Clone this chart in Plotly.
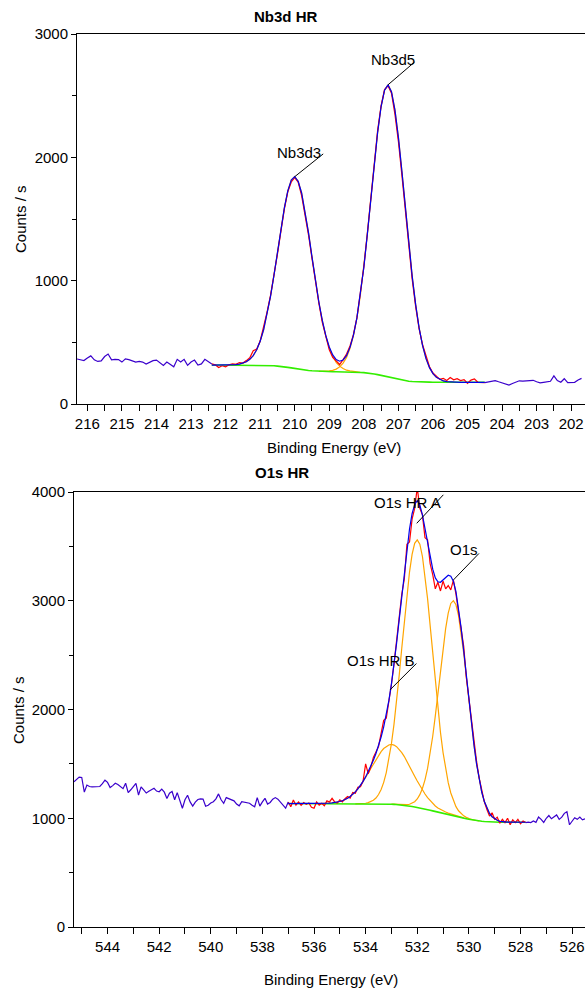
import plotly.graph_objects as go

W, H = 585, 991
STEP = 0.1

# ---------------- Nb3d HR (0.1 eV steps, 216.3 -> 201.7 eV) ----------------
nb_start, nb_end = 216.3, 201.7
nb_counts = [
    # 216.3 -> 212.4 (outside fit region)
    365, 360, 352, 372, 390, 358, 345, 350, 385, 405, 358, 362, 360, 340, 366, 360, 352, 340, 345, 340,
    324, 338, 352, 356, 330, 312, 340, 320, 302, 362, 340, 362, 313, 340, 356, 316, 325, 362, 345, 325,
    # 212.3 -> 204.5 (fit region)
    318, 296, 310, 302, 318, 326, 322, 336, 332, 352, 375, 432, 445, 510, 620, 745, 880, 1040, 1215, 1400,
    1580, 1720, 1800, 1835, 1800, 1690, 1540, 1370, 1180, 990, 815, 660, 540, 440, 378, 350, 320, 360, 405, 470,
    565, 700, 885, 1110, 1380, 1670, 1960, 2220, 2420, 2550, 2580, 2520, 2350, 2130, 1860, 1570, 1280, 1010, 790, 610,
    480, 380, 302, 252, 222, 200, 208, 190, 214, 196, 205, 190, 198, 168, 194, 204, 176, 172, 174,
    # 204.4 -> 201.7
    180, 184, 190, 180, 172, 160, 154, 166, 178, 188, 186, 190, 194, 192, 180, 172, 176, 180, 184, 228,
    190, 176, 205, 174, 172, 176, 195, 208,
]
nb_region = (212.4, 204.5)
nb_bg = [
    316, 316, 316, 316, 316, 316, 316, 316, 316, 316, 316, 316, 316, 315, 315, 314, 313, 312, 310, 307,
    305, 301, 297, 293, 288, 284, 280, 276, 272, 269, 267, 265, 264, 263, 262, 262, 261, 261, 261, 260,
    260, 259, 258, 256, 254, 252, 248, 243, 238, 232, 225, 218, 212, 205, 199, 194, 189, 185, 182, 180,
    179, 178, 177, 177, 176, 176, 176, 176, 176, 176, 176, 176, 176, 176, 176, 176, 176, 176, 176, 176,
]
nb_env = [
    316, 316, 316, 316, 316, 317, 318, 320, 324, 330, 342, 362, 393, 440, 509, 602, 724, 872, 1044, 1231,
    1420, 1590, 1728, 1815, 1843, 1806, 1711, 1565, 1387, 1193, 1001, 825, 676, 554, 462, 398, 360, 347, 357, 392,
    459, 559, 698, 883, 1107, 1371, 1656, 1942, 2203, 2412, 2545, 2588, 2532, 2385, 2164, 1893, 1597, 1304, 1035, 806,
    617, 474, 368, 295, 246, 216, 198, 187, 182, 179, 177, 176, 176, 176, 176, 176, 176, 176, 176, 176,
]
nb3d3_start = 211.9
nb3d3_fit = [
    317, 318, 320, 324, 330, 342, 362, 393, 440, 509, 602, 724, 872, 1044, 1231, 1420, 1590, 1728, 1815, 1843,
    1806, 1711, 1565, 1387, 1193, 1001, 825, 675, 551, 456, 387, 338, 307, 287, 274, 268, 263, 260, 257,
]
nb3d5_start = 209.3
nb3d5_fit = [
    265, 265, 266, 268, 273, 283, 301, 331, 378, 451, 555, 696, 882, 1107, 1371, 1656, 1942, 2203, 2412, 2545,
    2588, 2532, 2385, 2164, 1893, 1597, 1304, 1035, 806, 617, 474, 368, 295, 246, 216, 198, 187, 182, 179, 177,
]
nb_labels = ["Nb3d3", "Nb3d5"]
nb_label_x = [210.0, 207.3]
nb_label_y = [1843, 2588]

# ---------------- O1s HR (0.1 eV steps, 545.3 -> 525.5 eV) ----------------
o_start, o_end = 545.3, 525.5
o_counts = [
    # 545.3 -> 537.0
    1336, 1360, 1378, 1375, 1240, 1305, 1292, 1288, 1290, 1289, 1292, 1318, 1350, 1330, 1282, 1300, 1322, 1310, 1295, 1272,
    1322, 1236, 1262, 1290, 1320, 1212, 1288, 1260, 1232, 1248, 1262, 1276, 1250, 1244, 1268, 1240, 1182, 1230, 1246, 1170,
    1236, 1160, 1092, 1170, 1212, 1150, 1112, 1148, 1172, 1178, 1176, 1110, 1120, 1140, 1152, 1178, 1224, 1170, 1138, 1190,
    1180, 1165, 1160, 1130, 1114, 1152, 1145, 1142, 1138, 1120, 1106, 1190, 1112, 1150, 1183, 1130, 1145, 1175, 1190, 1175,
    1150, 1120, 1092, 1150,
    # 536.9 -> 527.8 (fit region)
    1105, 1168, 1120, 1150, 1118, 1145, 1128, 1140, 1100, 1092, 1150, 1120, 1138, 1115, 1160, 1150, 1183, 1150, 1140, 1170,
    1150, 1180, 1200, 1185, 1238, 1230, 1285, 1290, 1340, 1500, 1410, 1470, 1560, 1610, 1660, 1780, 1900, 1920, 2060, 2230,
    2420, 2630, 2800, 3060, 3200, 3520, 3540, 3750, 3850, 4040, 3850, 3790, 3580, 3560, 3340, 3240, 3110, 3170, 3090, 3180,
    3110, 3140, 3100, 3190, 3060, 2900, 2700, 2580, 2300, 2100, 1880, 1700, 1520, 1370, 1260, 1150, 1080, 1020, 1050, 990,
    1010, 955, 990, 960, 1000, 940, 985, 960, 990, 950, 975, 960,
    # 527.7 -> 525.5
    965, 960, 975, 962, 1012, 990, 962, 1000, 1025, 995, 1010, 1030, 990, 1010, 1045, 1060, 940, 975, 1005, 990,
    1010, 985, 995,
]
o_region = (537.0, 527.8)
o_bg = [
    1135, 1135, 1135, 1135, 1135, 1135, 1135, 1135, 1134, 1134, 1134, 1134, 1134, 1134, 1134, 1134, 1134, 1134, 1134, 1133,
    1133, 1133, 1133, 1133, 1133, 1133, 1133, 1133, 1132, 1132, 1132, 1132, 1132, 1131, 1131, 1131, 1131, 1130, 1130, 1129,
    1129, 1128, 1126, 1124, 1122, 1119, 1116, 1112, 1108, 1104, 1100, 1096, 1091, 1086, 1080, 1074, 1068, 1062, 1057, 1052,
    1047, 1042, 1037, 1032, 1026, 1020, 1014, 1008, 1002, 996, 991, 986, 982, 978, 975, 972, 970, 968, 967, 966,
    965, 964, 963, 963, 963, 963, 963, 963, 963, 963, 963, 963, 963,
]
o_env = [
    1135, 1135, 1135, 1135, 1135, 1135, 1135, 1135, 1134, 1134, 1134, 1134, 1135, 1135, 1136, 1137, 1139, 1141, 1144, 1148,
    1154, 1161, 1171, 1184, 1200, 1220, 1243, 1271, 1302, 1339, 1380, 1427, 1477, 1533, 1595, 1666, 1747, 1841, 1952, 2081,
    2236, 2411, 2610, 2824, 3048, 3269, 3473, 3660, 3800, 3885, 3920, 3880, 3790, 3665, 3530, 3400, 3290, 3210, 3175, 3170,
    3190, 3215, 3235, 3225, 3180, 3085, 2935, 2750, 2540, 2315, 2086, 1868, 1670, 1497, 1353, 1239, 1153, 1089, 1044, 1014,
    994, 981, 972, 968, 966, 964, 964, 963, 963, 963, 963, 963, 963,
]
o_a_start = 534.4
o_a_fit = [
    1133, 1134, 1134, 1135, 1138, 1144, 1152, 1165, 1186, 1218, 1265, 1330, 1420, 1536, 1686, 1866, 2077, 2312, 2563, 2816,
    3055, 3264, 3426, 3528, 3560, 3520, 3409, 3238, 3019, 2771, 2509, 2250, 2008, 1790, 1604, 1449, 1327, 1232, 1160, 1107,
    1069, 1042, 1022, 1008, 997, 989, 984, 979, 975,
]
o_o_start = 533.0
o_o_fit = [
    1129, 1128, 1127, 1125, 1125, 1124, 1125, 1129, 1137, 1152, 1177, 1217, 1274, 1353, 1458, 1592, 1754, 1941, 2146, 2359,
    2563, 2744, 2886, 2975, 3001, 2963, 2863, 2710, 2518, 2303, 2080, 1865, 1668, 1496, 1353, 1239, 1153, 1089, 1044, 1014,
    994, 981, 972, 968, 966, 964, 964,
]
o_b_start = 535.8
o_b_fit = [
    1135, 1135, 1136, 1137, 1139, 1141, 1144, 1148, 1154, 1161, 1171, 1184, 1200, 1220, 1243, 1270, 1300, 1336, 1374, 1415,
    1457, 1499, 1540, 1579, 1613, 1641, 1662, 1674, 1679, 1673, 1658, 1635, 1604, 1567, 1525, 1480, 1433, 1387, 1342, 1300,
    1259, 1223, 1190, 1161, 1135, 1113, 1095, 1080, 1068, 1057, 1047, 1039, 1031, 1023, 1016, 1009, 1003,
]
o_labels = ["O1s HR A", "O1s", "O1s HR B"]
o_label_x = [532.02, 530.6, 533.06]
o_label_y = [3712, 3191, 2179]


def grid(start, n):
    return [round(start - i * STEP, 2) for i in range(n)]


def idx(start, e):
    return int(round((start - e) / STEP))


nb_x = grid(nb_start, len(nb_counts))
o_x = grid(o_start, len(o_counts))
assert abs(nb_x[-1] - nb_end) < 1e-6, nb_x[-1]
assert abs(o_x[-1] - o_end) < 1e-6, o_x[-1]

C_DATA = "#3a00cc"
C_RED = "#ff0000"
C_ENV = "#0000ee"
C_BG = "#33ee00"
C_COMP = "#ffa500"
LW = 1.2

fig = go.Figure()


def add_panel(xax, yax, x, counts, region, bg, env, comps, start):
    i0, i1 = idx(start, region[0]), idx(start, region[1])
    xr = x[i0:i1 + 1]
    for cstart, cvals in comps:
        fig.add_trace(go.Scatter(x=grid(cstart, len(cvals)), y=cvals, mode="lines",
                                 line=dict(color=C_COMP, width=LW), xaxis=xax, yaxis=yax))
    fig.add_trace(go.Scatter(x=xr, y=bg, mode="lines", line=dict(color=C_BG, width=1.6),
                             xaxis=xax, yaxis=yax))
    fig.add_trace(go.Scatter(x=xr, y=counts[i0:i1 + 1], mode="lines", line=dict(color=C_RED, width=LW),
                             xaxis=xax, yaxis=yax))
    fig.add_trace(go.Scatter(x=xr, y=env, mode="lines", line=dict(color=C_ENV, width=LW),
                             xaxis=xax, yaxis=yax))
    fig.add_trace(go.Scatter(x=x[:i0 + 1], y=counts[:i0 + 1], mode="lines",
                             line=dict(color=C_DATA, width=LW), xaxis=xax, yaxis=yax))
    fig.add_trace(go.Scatter(x=x[i1:], y=counts[i1:], mode="lines",
                             line=dict(color=C_DATA, width=LW), xaxis=xax, yaxis=yax))


add_panel("x", "y", nb_x, nb_counts, nb_region, nb_bg, nb_env,
          [(nb3d3_start, nb3d3_fit), (nb3d5_start, nb3d5_fit)], nb_start)
add_panel("x2", "y2", o_x, o_counts, o_region, o_bg, o_env,
          [(o_b_start, o_b_fit), (o_a_start, o_a_fit), (o_o_start, o_o_fit)], o_start)

FONT = "Liberation Sans, Arial, sans-serif"
tickfont = dict(family=FONT, size=15, color="black")


def xaxis_cfg(domain, rng, dtick, minor, anchor):
    return dict(domain=domain, range=rng, anchor=anchor, showline=True, linecolor="black", linewidth=1,
                mirror=True, showgrid=False, zeroline=False, ticks="outside", ticklen=6, tickwidth=1,
                tickcolor="black", tickmode="linear", tick0=0, dtick=dtick, tickfont=tickfont,
                automargin=False, ticklabeloverflow="allow",
                minor=dict(dtick=minor, tick0=0, ticks="outside", ticklen=6, tickwidth=1, tickcolor="black"))


def yaxis_cfg(domain, rng, anchor):
    return dict(domain=domain, range=rng, anchor=anchor, showline=True, linecolor="black", linewidth=1,
                showgrid=False, zeroline=False, ticks="outside", ticklen=5, tickwidth=1, tickcolor="black",
                tickmode="linear", tick0=0, dtick=1000, tickfont=tickfont,
                automargin=False, ticklabeloverflow="allow",
                minor=dict(dtick=500, tick0=0, ticks="outside", ticklen=4, tickwidth=1, tickcolor="black"))


fig.update_layout(
    width=W, height=H, autosize=False, showlegend=False,
    margin=dict(l=0, r=0, t=0, b=0, pad=0, autoexpand=False),
    paper_bgcolor="white", plot_bgcolor="white",
    xaxis=xaxis_cfg([77 / W, 1], [216.3, 201.6], 1, 0.5, "y"),
    yaxis=yaxis_cfg([1 - 404 / H, 1 - 34 / H], [0, 3000], "x"),
    xaxis2=xaxis_cfg([74 / W, 1], [545.3, 525.5], 2, 1, "y2"),
    yaxis2=yaxis_cfg([1 - 927 / H, 1 - 492 / H], [0, 4000], "x2"),
)

ann_font = dict(family=FONT, size=15, color="black")
annotations = []


def paper_text(text, px, py, angle=0):
    annotations.append(dict(text=text, x=px / W, y=1 - py / H, xref="paper", yref="paper",
                            showarrow=False, xanchor="center", yanchor="middle", textangle=angle,
                            font=ann_font))


paper_text("<b>Nb3d HR</b>", 286, 16)
paper_text("<b>O1s HR</b>", 282, 472)
paper_text("Binding Energy (eV)", 334, 447)
paper_text("Binding Energy (eV)", 331, 979)
paper_text("Counts / s", 20, 219, -90)
paper_text("Counts / s", 18, 710, -90)

# peak labels with leader lines (offsets in pixels)
nb_line_off = [(30, -24), (28, -24)]
nb_text_off = [(4, 24), (5, 25)]
o_line_off = [(28, -30), (27, -28), (28, -28)]
o_text_off = [(-9, 21), (11, 30), (-9, 30)]


def labels(names, xs, ys, xref, yref, loff, toff):
    for n, x, y, (ax, ay), (tx, ty) in zip(names, xs, ys, loff, toff):
        annotations.append(dict(text="", x=x, y=y, xref=xref, yref=yref, showarrow=True, arrowhead=0,
                                arrowwidth=1, arrowcolor="black", ax=ax, ay=ay, standoff=0, startstandoff=0))
        annotations.append(dict(text=n, x=x, y=y, xref=xref, yref=yref, showarrow=False,
                                xshift=tx, yshift=ty, xanchor="center", yanchor="middle", font=ann_font))


labels(nb_labels, nb_label_x, nb_label_y, "x", "y", nb_line_off, nb_text_off)
labels(o_labels, o_label_x, o_label_y, "x2", "y2", o_line_off, o_text_off)

fig.update_layout(annotations=annotations)
fig.write_html("out.html")
